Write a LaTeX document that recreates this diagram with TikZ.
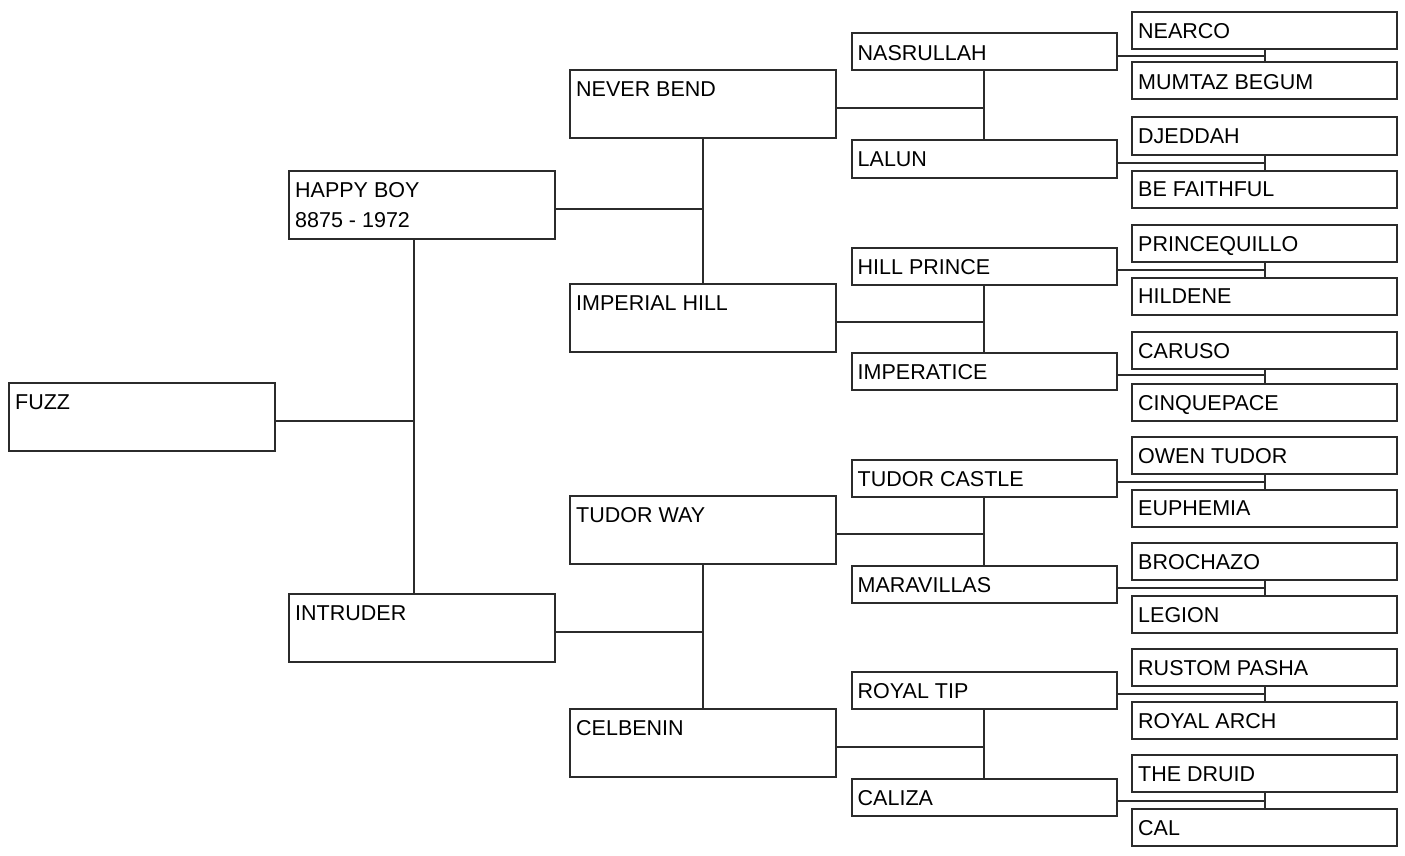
\documentclass[tikz,border=0pt]{standalone}
\usepackage{fontspec}
\setmainfont{Liberation Sans}
\usetikzlibrary{positioning}
\definecolor{penline}{HTML}{2B2B2B}

\begin{document}
\begin{tikzpicture}[x=1pt, y=-1pt,
  horse/.style={rectangle, draw=penline, line width=2pt, fill=white, minimum width=266pt, minimum height=68pt, inner sep=0pt},
  ancestor/.style={horse, minimum width=265pt, minimum height=37pt},
  horsename/.style={anchor=north west, inner sep=0pt, xshift=7pt, yshift=-12.5pt, font=\fontsize{21.5}{30}\selectfont, align=left},
  link/.style={draw=penline, line width=2pt}]
\useasboundingbox (0,0) rectangle (1405,856);
% horse and parents
\node[horse, label={[horsename]north west:FUZZ}] (fuzz) at (142,417) {};
\node[horse, label={[horsename]north west:HAPPY BOY\\8875 - 1972}] (happyboy) at (422,205) {};
\node[horse, label={[horsename]north west:INTRUDER}] (intruder) at (422,628) {};
% grandparents
\node[horse, label={[horsename]north west:NEVER BEND}] (neverbend) at (703,104.5) {};
\node[horse, label={[horsename]north west:IMPERIAL HILL}] (imperialhill) at (703,318) {};
\node[horse, label={[horsename]north west:TUDOR WAY}] (tudorway) at (703,530) {};
\node[horse, label={[horsename]north west:CELBENIN}] (celbenin) at (703,743) {};
% great-grandparents
\node[ancestor, label={[horsename]north west:NASRULLAH}] (nasrullah) at (984,52) {};
\node[ancestor, label={[horsename]north west:LALUN}] (lalun) at (984,159) {};
\node[ancestor, label={[horsename]north west:HILL PRINCE}] (hillprince) at (984,266) {};
\node[ancestor, label={[horsename]north west:IMPERATICE}] (imperatice) at (984,371) {};
\node[ancestor, label={[horsename]north west:TUDOR CASTLE}] (tudorcastle) at (984,478) {};
\node[ancestor, label={[horsename]north west:MARAVILLAS}] (maravillas) at (984,584) {};
\node[ancestor, label={[horsename]north west:ROYAL TIP}] (royaltip) at (984,690) {};
\node[ancestor, label={[horsename]north west:CALIZA}] (caliza) at (984,797) {};
% great-great-grandparents
\node[ancestor, label={[horsename]north west:NEARCO}] (nearco) at (1264.5,30.5) {};
\node[ancestor, label={[horsename]north west:MUMTAZ BEGUM}] (mumtaz) at (1264.5,81) {};
\node[ancestor, label={[horsename]north west:DJEDDAH}] (djeddah) at (1264.5,136) {};
\node[ancestor, label={[horsename]north west:BE FAITHFUL}] (befaithful) at (1264.5,189) {};
\node[ancestor, label={[horsename]north west:PRINCEQUILLO}] (princequillo) at (1264.5,243.5) {};
\node[ancestor, label={[horsename]north west:HILDENE}] (hildene) at (1264.5,296) {};
\node[ancestor, label={[horsename]north west:CARUSO}] (caruso) at (1264.5,350) {};
\node[ancestor, label={[horsename]north west:CINQUEPACE}] (cinquepace) at (1264.5,402.5) {};
\node[ancestor, label={[horsename]north west:OWEN TUDOR}] (owentudor) at (1264.5,455.5) {};
\node[ancestor, label={[horsename]north west:EUPHEMIA}] (euphemia) at (1264.5,508) {};
\node[ancestor, label={[horsename]north west:BROCHAZO}] (brochazo) at (1264.5,561.5) {};
\node[ancestor, label={[horsename]north west:LEGION}] (legion) at (1264.5,614.5) {};
\node[ancestor, label={[horsename]north west:RUSTOM PASHA}] (rustompasha) at (1264.5,667.5) {};
\node[ancestor, label={[horsename]north west:ROYAL ARCH}] (royalarch) at (1264.5,720.5) {};
\node[ancestor, label={[horsename]north west:THE DRUID}] (thedruid) at (1264.5,773) {};
\node[ancestor, label={[horsename]north west:CAL}] (cal) at (1264.5,827) {};
% sire-dam links
\coordinate (fork) at ([xshift=-8.5pt]happyboy.south);
\draw[link] (fork) -- (fork |- intruder.north);
\draw[link] ([yshift=-4pt]fuzz.east) -- ([yshift=-4pt]fuzz.east -| fork);
\draw[link] (neverbend.south) -- (imperialhill.north);
\draw[link] ([yshift=-4pt]happyboy.east) -- ([yshift=-4pt]happyboy.east -| neverbend.south);
\draw[link] (tudorway.south) -- (celbenin.north);
\draw[link] ([yshift=-4pt]intruder.east) -- ([yshift=-4pt]intruder.east -| tudorway.south);
\draw[link] (nasrullah.south) -- (lalun.north);
\draw[link] ([yshift=-4pt]neverbend.east) -- ([yshift=-4pt]neverbend.east -| nasrullah.south);
\draw[link] (hillprince.south) -- (imperatice.north);
\draw[link] ([yshift=-4pt]imperialhill.east) -- ([yshift=-4pt]imperialhill.east -| hillprince.south);
\draw[link] (tudorcastle.south) -- (maravillas.north);
\draw[link] ([yshift=-4pt]tudorway.east) -- ([yshift=-4pt]tudorway.east -| tudorcastle.south);
\draw[link] (royaltip.south) -- (caliza.north);
\draw[link] ([yshift=-4pt]celbenin.east) -- ([yshift=-4pt]celbenin.east -| royaltip.south);
\draw[link] (nearco.south) -- (mumtaz.north);
\draw[link] ([yshift=-4pt]nasrullah.east) -- ([yshift=-4pt]nasrullah.east -| nearco.south);
\draw[link] (djeddah.south) -- (befaithful.north);
\draw[link] ([yshift=-4pt]lalun.east) -- ([yshift=-4pt]lalun.east -| djeddah.south);
\draw[link] (princequillo.south) -- (hildene.north);
\draw[link] ([yshift=-4pt]hillprince.east) -- ([yshift=-4pt]hillprince.east -| princequillo.south);
\draw[link] (caruso.south) -- (cinquepace.north);
\draw[link] ([yshift=-4pt]imperatice.east) -- ([yshift=-4pt]imperatice.east -| caruso.south);
\draw[link] (owentudor.south) -- (euphemia.north);
\draw[link] ([yshift=-4pt]tudorcastle.east) -- ([yshift=-4pt]tudorcastle.east -| owentudor.south);
\draw[link] (brochazo.south) -- (legion.north);
\draw[link] ([yshift=-4pt]maravillas.east) -- ([yshift=-4pt]maravillas.east -| brochazo.south);
\draw[link] (rustompasha.south) -- (royalarch.north);
\draw[link] ([yshift=-4pt]royaltip.east) -- ([yshift=-4pt]royaltip.east -| rustompasha.south);
\draw[link] (thedruid.south) -- (cal.north);
\draw[link] ([yshift=-4pt]caliza.east) -- ([yshift=-4pt]caliza.east -| thedruid.south);
\end{tikzpicture}
\end{document}
